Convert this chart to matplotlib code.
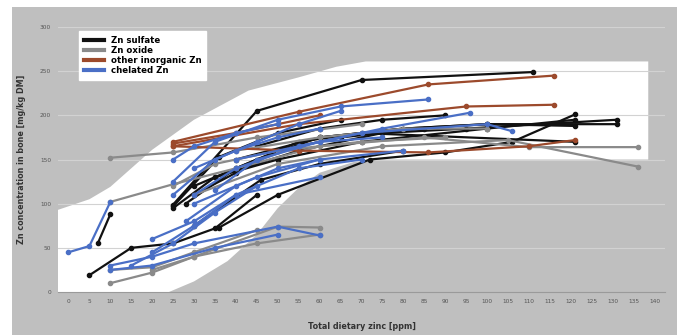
import matplotlib
matplotlib.use("Agg")
import matplotlib.pyplot as plt
from matplotlib.patches import Rectangle

# ---------------- data ----------------
x_ticks = list(range(0, 145, 5))
y_ticks = [0, 50, 100, 150, 200, 250, 300]

# white "range" envelope (x in ppm, y in mg/kg)
env_x = [-2.5, 5, 10, 15, 20, 30, 43, 55, 64, 71, 138.5, 138.5, 73, 68,
         60, 55, 50, 45, 38, 30, 24, -2.5]
env_y = [93, 105, 119, 140, 161, 195, 228, 243, 255, 261, 261, 150, 150, 147,
         135, 118, 95, 65, 35, 12, 0, 0]

# Zn sulfate
sulf_x = [
    [25, 45, 70, 111],
    [5, 15, 25, 35, 45],
    [7, 10],
    [25, 35, 50, 70, 100, 121],
    [36, 50, 72, 90, 106, 121],
    [35, 55, 75, 95, 131],
    [30, 45, 60, 80, 100, 131],
    [40, 60, 80, 100, 121],
    [28, 40, 55, 70, 121],
    [25, 36, 50, 65],
    [30, 46, 60, 80],
    [30, 40, 50, 65, 85],
    [45, 60, 75, 90],
]
sulf_y = [
    [99, 205, 240, 249],
    [19, 50, 55, 72, 110],
    [55, 88],
    [95, 130, 150, 170, 185, 195],
    [73, 110, 150, 158, 170, 201],
    [130, 160, 180, 185, 195],
    [120, 150, 175, 185, 190, 190],
    [150, 175, 185, 190, 188],
    [100, 140, 170, 180, 170],
    [97, 153, 180, 195],
    [75, 127, 145, 160],
    [110, 135, 160, 175, 185],
    [165, 185, 195, 200],
]

# Zn oxide
oxide_x = [
    [10, 25, 45, 70],
    [10, 25, 40],
    [10, 20, 30, 50, 60],
    [40, 60, 85, 110, 136],
    [30, 50, 75, 105, 136],
    [10, 20, 30, 45],
    [40, 60, 80, 100],
    [20, 30, 45, 60],
    [25, 35, 50, 70, 90],
]
oxide_y = [
    [152, 158, 175, 190],
    [102, 122, 140],
    [10, 22, 40, 74, 73],
    [140, 165, 175, 164, 164],
    [110, 145, 165, 172, 142],
    [25, 28, 45, 70],
    [160, 175, 185, 185],
    [25, 40, 55, 65],
    [120, 145, 160, 170, 175],
]

# other inorganic Zn
other_x = [
    [25, 55, 86, 116],
    [25, 55, 95, 116],
    [25, 55, 86, 110, 121],
    [25, 40, 60],
]
other_y = [
    [170, 204, 235, 245],
    [165, 190, 210, 212],
    [165, 160, 158, 165, 172],
    [168, 180, 200],
]

# chelated Zn
chel_x = [
    [0, 5, 10],
    [10, 20, 35, 50],
    [10, 20, 30, 50, 60],
    [20, 30, 40, 55, 70],
    [25, 35, 50, 65, 86],
    [30, 40, 55, 75, 96],
    [30, 45, 60, 80],
    [35, 45, 60, 75],
    [28, 40, 50, 60],
    [40, 55, 70, 100, 106],
    [15, 25, 35, 45],
    [20, 30, 40, 60],
    [25, 30, 40, 50],
    [30, 40, 50, 60],
    [25, 35, 45, 55, 65],
]
chel_y = [
    [45, 52, 102],
    [25, 30, 50, 65],
    [30, 40, 55, 74, 64],
    [60, 80, 110, 140, 150],
    [125, 170, 195, 210, 218],
    [110, 140, 165, 185, 203],
    [100, 130, 150, 160],
    [115, 150, 170, 175],
    [80, 120, 140, 150],
    [150, 165, 180, 190, 182],
    [30, 55, 90, 120],
    [45, 75, 110, 130],
    [150, 165, 180, 190],
    [140, 160, 175, 185],
    [110, 150, 170, 190, 205],
]

groups = [
    ("Zn sulfate", "#111111", sulf_x, sulf_y),
    ("Zn oxide", "#8a8a8a", oxide_x, oxide_y),
    ("other inorganic Zn", "#9c4a2c", other_x, other_y),
    ("chelated Zn", "#4a6fc6", chel_x, chel_y),
]

# ---------------- figure ----------------
BG = "#bfbfbf"
fig = plt.figure(figsize=(6.77, 3.35), dpi=100, facecolor="white")
fig.patches.append(Rectangle((12 / 677, 0), 1 - 12 / 677, 1 - 7 / 335,
                             transform=fig.transFigure, facecolor=BG,
                             edgecolor="none", zorder=-10))

ax = fig.add_axes([58 / 677, 1 - 292 / 335, (665 - 58) / 677, (292 - 27) / 335])
ax.set_facecolor(BG)
ax.set_xlim(-2.5, 142.5)
ax.set_ylim(0, 300)

ax.fill(env_x, env_y, color="white", zorder=1, lw=0)

for yv in y_ticks[1:]:
    ax.axhline(yv, color="#d2d2d2", lw=0.8, zorder=1.5)

for label, col, xs, ys in groups:
    for i, (xx, yy) in enumerate(zip(xs, ys)):
        ax.plot(xx, yy, color=col, lw=1.6, marker="o", ms=3.0,
                mec=col, mfc=col, zorder=3,
                label=label if i == 0 else None)

for s in ["top", "right", "left"]:
    ax.spines[s].set_visible(False)
ax.spines["bottom"].set_color("#9a9a9a")
ax.spines["bottom"].set_linewidth(0.8)

ax.set_xticks(x_ticks)
ax.set_xticklabels([str(v) for v in x_ticks], fontsize=4.2, color="#555555")
ax.set_yticks(y_ticks)
ax.set_yticklabels([str(v) for v in y_ticks], fontsize=4.2, color="#555555")
ax.tick_params(length=0, pad=5)

ax.set_xlabel("Total dietary zinc [ppm]", fontsize=5.8, fontweight="bold",
              color="#333333", labelpad=13)
ax.set_ylabel("Zn concentration in bone [mg/kg DM]", fontsize=5.8,
              fontweight="bold", color="#333333", labelpad=10)

leg = ax.legend(loc="upper left", bbox_to_anchor=(75 / 677, 1 - 27 / 335),
                bbox_transform=fig.transFigure, fontsize=6.2, frameon=True,
                fancybox=False, framealpha=1, edgecolor="white",
                handlelength=2.4, handletextpad=0.8, labelspacing=0.15,
                borderpad=0.5, prop={"weight": "bold", "size": 6.2})
for h in leg.legend_handles:
    h.set_linewidth(3)
    h.set_marker("")

fig.savefig("out.png", dpi=100, facecolor=fig.get_facecolor())
